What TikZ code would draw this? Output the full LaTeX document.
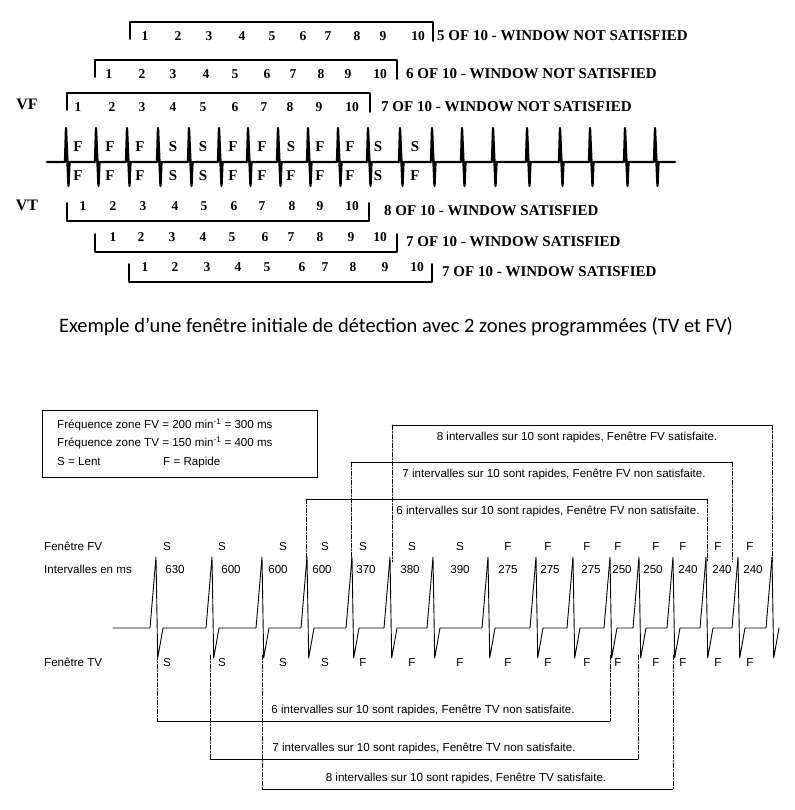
\documentclass[tikz,border=0pt]{standalone}
\usepackage{fontspec}
\setmainfont{Liberation Sans}
\newfontfamily\ecgfont{Liberation Serif}
\newfontfamily\capfont{Carlito}
\begin{document}
\begin{tikzpicture}[x=1pt,y=-1pt,line cap=round,line join=round,
  big/.style={font=\ecgfont\bfseries\fontsize{15}{17}\selectfont,inner sep=0pt,
    text height=.66em,text depth=0pt},
  num/.style={font=\ecgfont\bfseries\fontsize{13.5}{15}\selectfont,inner sep=0pt,
    text height=.66em,text depth=0pt},
  sm/.style={font=\fontsize{11.6}{13}\selectfont,inner sep=0pt,
    text height=.72em,text depth=0pt},
  dd/.style={line width=.7pt,dash pattern=on 5pt off 1.5pt on 1pt off 1.5pt}]
  \useasboundingbox (0,0) rectangle (794,810);
  % serif windows: bracket, numbers 1..10, verdict on the right
  \def\wF#1#2#3#4#5#6#7{%
    \draw[line width=1.8pt] (#1,#3+17) |- (#2,#3) -- (#2,#3+19);
    \foreach \x [count=\i] in {#4} \node[num] (#5\i) at (\x,#3+15) {\i};
    \node[big,anchor=west] (#5v) at (#6,#3+15) {#7};}
  \def\wT#1#2#3#4#5#6#7{%
    \draw[line width=1.8pt] (#1,#3-18) |- (#2,#3) -- (#2,#3-18);
    \foreach \x [count=\i] in {#4} \node[num] (#5\i) at (\x,#3-14) {\i};
    \node[big,anchor=west] (#5v) at (#6,#3-9) {#7};}
  \wF{130}{433}{22}{145,178,209,242,272,303,328,357,383,418}{fa}{437}{5 OF 10 - WINDOW NOT SATISFIED}
  \wF{95}{397}{60}{109,142,173,206,235,267,293,321,348,380}{fb}{406}{6 OF 10 - WINDOW NOT SATISFIED}
  \wF{67}{370}{93}{78,112,142,173,203,235,264,290,319,352}{fc}{381}{7 OF 10 - WINDOW NOT SATISFIED}
  \wT{67}{369}{221}{83,113,143,175,204,234,262,292,320,352}{ta}{384}{8 OF 10 - WINDOW SATISFIED}
  \wT{95}{397}{252}{113,141,172,203,232,265,291,320,351,380}{tb}{406}{7 OF 10 - WINDOW SATISFIED}
  \wT{129}{432}{282}{145,175,207,238,267,302,325,353,385,417}{tc}{442}{7 OF 10 - WINDOW SATISFIED}
  \node[big,font=\ecgfont\bfseries\fontsize{16}{18}\selectfont] (vf) at (27,106) {VF};
  \node[big,font=\ecgfont\bfseries\fontsize{16}{18}\selectfont] (vt) at (27,207) {VT};
  \draw[line width=2.3pt] (47,162)
    \foreach \p in {66,96,127,158,189,219,248,278,308,338,368,400,432,462,493,527,560,590,625,655}
      { -- (\p-1,162) -- (\p,128) -- (\p+2.5,186) -- (\p+3.5,162) } -- (675,162);
  \foreach \x/\a/\b [count=\i] in {78/F/F,110/F/F,140/F/F,173/S/S,203/S/S,233/F/F,
    262/F/F,291/S/F,320/F/F,350/F/F,378/S/S,415/S/F} {
    \node[big] (uf\i) at (\x,148) {\a};
    \node[big] (ut\i) at (\x,177) {\b};}
  \node[font=\capfont\fontsize{20.5}{24}\selectfont] (cap) at (396,327)
    {Exemple d’une fenêtre initiale de détection avec 2 zones programmées (TV et FV)};
  \draw[line width=.8pt] (42,410) rectangle (317,477);
  \node[sm,anchor=west] (k1) at (57,425) {Fréquence zone FV = 200 min\textsuperscript{-1} = 300 ms};
  \node[sm,anchor=west] (k2) at (57,443) {Fréquence zone TV = 150 min\textsuperscript{-1} = 400 ms};
  \node[sm,anchor=west] (k3) at (57,462) {S = Lent};
  \node[sm,anchor=west] (k4) at (163,462) {F = Rapide};
  % sans windows: solid edge, dash-dot sides
  \def\fW#1#2#3#4#5#6{%
    \draw[line width=.7pt] (#1,#3) -- (#2,#3);
    \draw[dd] (#1,#3) -- (#1,562) (#2,#3) -- (#2,562);
    \node[sm] (#5) at (#4,#3+12) {#6};}
  \def\tW#1#2#3#4#5#6{%
    \draw[line width=.7pt] (#1,#3) -- (#2,#3);
    \draw[dd] (#1,655) -- (#1,#3) (#2,655) -- (#2,#3);
    \node[sm] (#5) at (#4,#3-11) {#6};}
  \fW{392}{772}{425}{577}{fv8}{8 intervalles sur 10 sont rapides, Fenêtre FV satisfaite.}
  \fW{351}{732}{462}{554}{fv7}{7 intervalles sur 10 sont rapides, Fenêtre FV non satisfaite.}
  \fW{306}{707}{499}{548}{fv6}{6 intervalles sur 10 sont rapides, Fenêtre FV non satisfaite.}
  \tW{157}{610}{721}{423}{tv6}{6 intervalles sur 10 sont rapides, Fenêtre TV non satisfaite.}
  \tW{210}{638}{759}{424}{tv7}{7 intervalles sur 10 sont rapides, Fenêtre TV non satisfaite.}
  \tW{262}{673}{789}{466}{tv8}{8 intervalles sur 10 sont rapides, Fenêtre TV satisfaite.}
  \node[sm,anchor=west] (lfv) at (44,547) {Fenêtre FV};
  \node[sm,anchor=west] (lms) at (44,570) {Intervalles en ms};
  \node[sm,anchor=west] (ltv) at (44,663) {Fenêtre TV};
  \draw[line width=.9pt] (113,628)
    \foreach \p in {156,212,262,307,352,390,433,488,536,573,610,639,673,706,738,772}
      { -- (\p-6,628) -- (\p,557) -- (\p+1.7,658) -- (\p+7,628) };
  \foreach \x/\m/\v/\a/\b [count=\i] in {167/175/630/S/S,222/231/600/S/S,283/278/600/S/S,
    325/322/600/S/S,363/366/370/S/F,412/410/380/S/F,460/460/390/S/F,508/508/275/F/F,
    548/550/275/F/F,587/591/275/F/F,618/622/250/F/F,656/653/250/F/F,683/688/240/F/F,
    718/722/240/F/F,750/753/240/F/F} {
    \node[sm] (zf\i) at (\x,547) {\a};
    \node[sm] (zm\i) at (\m,570) {\v};
    \node[sm] (zt\i) at (\x,663) {\b};}
\end{tikzpicture}
\end{document}
